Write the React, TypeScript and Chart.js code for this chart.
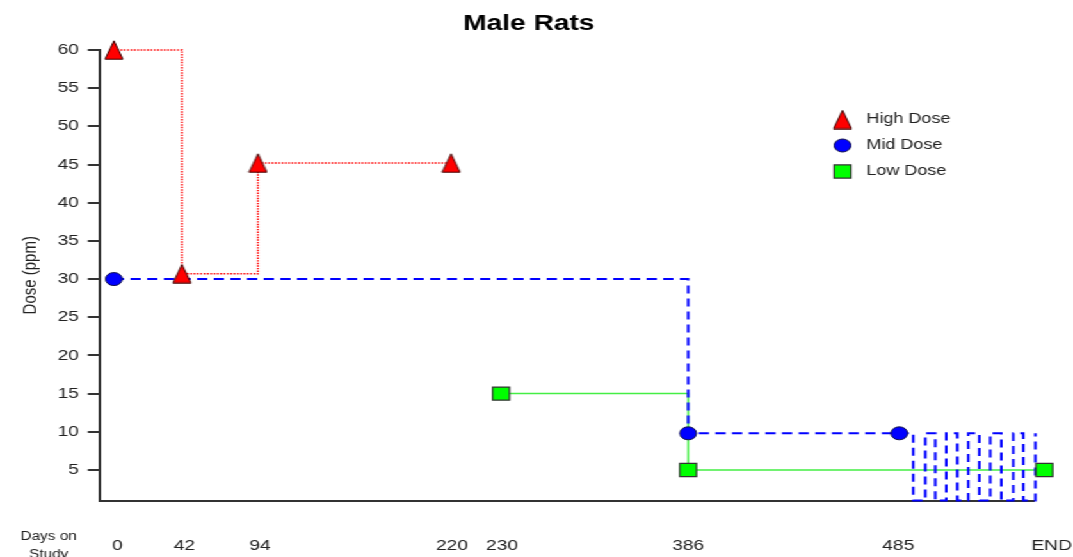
import React, { useEffect, useRef } from 'react';
import { Chart, registerables } from 'chart.js';
import { drawPoint } from 'chart.js/helpers';

Chart.register(...registerables);

// ---- data ----
const chartTitle = 'Male Rats';
const yAxisTitle = 'Dose (ppm)';
const xAxisCaption = ['Days on', 'Study'];

// study-day categories and their places on the (non-linear) study-day axis
const dayLabels = ['0', '42', '94', '220', '230', '386', '485', 'END'];
const dayPositions = [14, 82, 158, 351, 401, 588, 799, 944];
const dayLabelPositions = [17.5, 84.5, 160, 352, 402, 588, 798, 951.5];
const axisEnd = 933;

const doseTicks = [5, 10, 15, 20, 25, 30, 35, 40, 45, 50, 55, 60];
const doseMin = 1;
const doseMax = 60;

const highDoseDays = ['0', '42', '94', '220'];
const highDoseValues = [60, 30.7, 45.2, 45.2];

const midDoseDays = ['0', '386', '485', 'END'];
const midDoseValues = [30, 9.8, 9.8, 9.8];

const lowDoseDays = ['230', '386', 'END'];
const lowDoseValues = [15, 5, 5];

// pulsed stretch of the mid-dose line between day 485 and END
const midDosePulseX = [813, 825, 835, 846, 857, 868, 879, 890, 901, 913, 923, 935];
const midDosePulseY = [1, 9.8, 1, 9.8, 1, 9.8, 1, 9.8, 1, 9.8, 1, 9.8];

// ---- helpers ----
const FONT = '"Liberation Sans", Arial, Helvetica, sans-serif';
const NATIVE_W = 838;
const NATIVE_H = 557;
const STRETCH = 1073 / NATIVE_W;

const xOf = (d: string) => dayPositions[dayLabels.indexOf(d)];
const toPts = (days: string[], vals: number[]) => days.map((d, i) => ({ x: xOf(d), y: vals[i] }));

function makeTriangle(): HTMLCanvasElement {
  const c = document.createElement('canvas');
  c.width = 16;
  c.height = 20;
  const g = c.getContext('2d')!;
  g.beginPath();
  g.moveTo(8, 0.8);
  g.lineTo(1, 19.2);
  g.lineTo(15, 19.2);
  g.closePath();
  g.fillStyle = '#ff0000';
  g.fill();
  g.lineWidth = 1;
  g.strokeStyle = '#3a0000';
  g.stroke();
  return c;
}

const overlayLegend = {
  id: 'overlayLegend',
  afterDatasetsDraw(chart: any) {
    const { ctx, chartArea } = chart;
    const x0 = chartArea.right - 149;
    let y = chartArea.top + 69.5;
    chart.data.datasets.forEach((ds: any) => {
      if (ds.showLine !== false) return;
      ctx.save();
      ctx.fillStyle = ds.pointBackgroundColor;
      ctx.strokeStyle = ds.pointBorderColor;
      ctx.lineWidth = ds.pointBorderWidth;
      drawPoint(ctx, { pointStyle: ds.pointStyle, rotation: 0, radius: ds.pointRadius, borderWidth: ds.pointBorderWidth } as any, x0, y);
      ctx.fillStyle = '#222';
      ctx.font = `14px ${FONT}`;
      ctx.textBaseline = 'middle';
      ctx.textAlign = 'left';
      ctx.fillText(ds.label, x0 + 18.8, y);
      ctx.restore();
      y += 26;
    });
  },
};

const axisCaption = {
  id: 'axisCaption',
  afterLayout(chart: any) {
    // centre the title over the whole picture rather than the padded layout box
    if (chart.titleBlock) {
      chart.titleBlock.left = 0;
      chart.titleBlock.right = chart.width - 12;
    }
  },
  afterDraw(chart: any) {
    const { ctx, chartArea } = chart;
    ctx.save();
    ctx.fillStyle = '#222';
    ctx.font = `12px ${FONT}`;
    ctx.textAlign = 'center';
    ctx.textBaseline = 'middle';
    const x = chartArea.left - 40;
    const y = chartArea.bottom + 36;
    xAxisCaption.forEach((t, i) => ctx.fillText(t, x, y + i * 18.3));
    ctx.restore();
  },
};

export default function App() {
  const ref = useRef<HTMLCanvasElement | null>(null);

  useEffect(() => {
    if (!ref.current) return;
    const tri = makeTriangle();
    const highPts = toPts(highDoseDays, highDoseValues);
    const midPts = toPts(midDoseDays, midDoseValues);
    const lowPts = toPts(lowDoseDays, lowDoseValues);
    const midPath = [...midPts, ...midDosePulseX.map((x, i) => ({ x, y: midDosePulseY[i] }))].sort((a, b) => a.x - b.x);

    const chart = new Chart(ref.current, {
      type: 'line',
      data: {
        datasets: [
          {
            label: 'High Dose', data: highPts, showLine: false, order: 0, clip: false as any,
            pointStyle: tri as any, pointRadius: 9, pointBorderWidth: 1,
            pointBackgroundColor: '#ff0000', pointBorderColor: '#3a0000',
          },
          {
            label: 'Mid Dose', data: midPts, showLine: false, order: 0, clip: false as any,
            pointStyle: 'circle', pointRadius: 6.5, pointBorderWidth: 1,
            pointBackgroundColor: '#0000ff', pointBorderColor: '#10104a',
          },
          {
            label: 'Low Dose', data: lowPts, showLine: false, order: 0, clip: false as any,
            pointStyle: 'rect', pointRadius: 9.3, pointBorderWidth: 1.2,
            pointBackgroundColor: '#00ff00', pointBorderColor: '#333333',
          },
          {
            label: 'high-line', data: highPts, stepped: true, order: 1, clip: false as any,
            borderColor: '#ff0000', borderWidth: 1.4, borderDash: [1.4, 1.2], pointRadius: 0, fill: false,
          },
          {
            label: 'mid-line', data: midPath, stepped: true, order: 1, clip: false as any,
            borderColor: '#0000ff', borderWidth: 2, borderDash: [8, 5], pointRadius: 0, fill: false,
          },
          {
            label: 'low-line', data: lowPts, stepped: true, order: 1, clip: false as any,
            borderColor: '#44ee44', borderWidth: 1.5, pointRadius: 0, fill: false,
          },
        ] as any,
      },
      options: {
        responsive: false,
        animation: false,
        events: [],
        layout: { padding: { left: 0, right: 31, top: 0, bottom: 0 } },
        font: { family: FONT },
        plugins: {
          legend: { display: false },
          tooltip: { enabled: false },
          title: {
            display: true, text: chartTitle, color: '#000',
            font: { family: FONT, size: 22, weight: 'bold' },
            padding: { top: 10.8, bottom: 12.8 },
          },
        },
        scales: {
          x: {
            type: 'linear', min: 0, max: axisEnd,
            grid: { display: false, drawTicks: false },
            border: { display: true, color: '#333', width: 2 },
            afterBuildTicks: (s: any) => { s.ticks = dayLabelPositions.map((v) => ({ value: v })); },
            afterFit: (s: any) => { s.height = 56.5; s.paddingLeft = 0; s.paddingRight = 0; },
            ticks: {
              autoSkip: false, maxRotation: 0, minRotation: 0, padding: 36,
              color: '#222', font: { family: FONT, size: 15 },
              callback: (v: any) => dayLabels[dayLabelPositions.indexOf(Number(v))] ?? '',
            },
          },
          y: {
            type: 'linear', min: doseMin, max: doseMax,
            grid: { drawOnChartArea: false, drawTicks: true, tickLength: 9.4, color: '#333', lineWidth: 2 },
            border: { display: true, color: '#333', width: 2 },
            afterBuildTicks: (s: any) => { s.ticks = doseTicks.map((v) => ({ value: v })); },
            afterFit: (s: any) => { s.width = 78; },
            ticks: { padding: 7, color: '#222', font: { family: FONT, size: 15 } },
            title: {
              display: true, text: yAxisTitle, color: '#222',
              font: { family: FONT, size: 15 }, padding: { top: 14.4, bottom: 0 },
            },
          },
        },
      } as any,
      plugins: [overlayLegend, axisCaption],
    });
    return () => chart.destroy();
  }, []);

  return (
    <div
      style={{
        position: 'fixed', left: 0, top: 0, width: NATIVE_W, height: NATIVE_H,
        transform: `scaleX(${STRETCH})`, transformOrigin: '0 0', background: '#fff',
      }}
    >
      <canvas ref={ref} width={NATIVE_W} height={NATIVE_H} />
    </div>
  );
}
